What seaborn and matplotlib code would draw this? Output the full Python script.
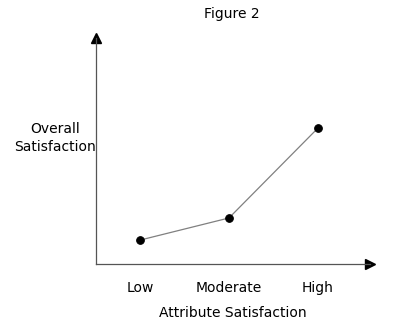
import matplotlib
matplotlib.use("Agg")
import matplotlib.pyplot as plt
import seaborn as sns
import pandas as pd

categories = ["Low", "Moderate", "High"]
overall = [1.06, 2.04, 6.02]
title = "Figure 2"
xlabel = "Attribute Satisfaction"
ylabel = "Overall\nSatisfaction"

sns.set_style("white")
plt.rcParams["font.family"] = ["DejaVu Sans"]
plt.rcParams["text.color"] = "black"
plt.rcParams["xtick.color"] = "black"
plt.rcParams["axes.labelcolor"] = "black"

df = pd.DataFrame({"x": range(len(categories)), "y": overall})

fig = plt.figure(figsize=(4, 3.33), dpi=100)
ax = fig.add_axes([0.24, 0.207, 0.685, 0.6787])
sns.lineplot(data=df, x="x", y="y", ax=ax, color="#808080", linewidth=0.9,
             marker="o", markersize=5.5, markerfacecolor="black",
             markeredgecolor="black")
ax.set_xlim(-0.494, 2.584)
ax.set_ylim(0, 10)
ax.set_xticks(range(len(categories)))
ax.set_xticklabels(categories, fontsize=10)
ax.set_yticks([])
ax.tick_params(axis="x", length=0, pad=12)
for s in ["top", "right"]:
    ax.spines[s].set_visible(False)
for s in ["left", "bottom"]:
    ax.spines[s].set_color("#555555")
    ax.spines[s].set_linewidth(0.9)
ax.plot(1, 0, ">", color="black", markersize=7, transform=ax.transAxes, clip_on=False)
ax.plot(0, 1, "^", color="black", markersize=7, transform=ax.transAxes, clip_on=False)
ax.set_xlabel(xlabel, fontsize=10, labelpad=8)
ax.set_ylabel("")
fig.text(55 / 400, 1 - 138 / 333, ylabel, fontsize=10, ha="center", va="center",
         linespacing=1.3)
fig.text(232 / 400, 1 - 14 / 333, title, fontsize=10, ha="center", va="center")
fig.savefig("out.png", dpi=100)
